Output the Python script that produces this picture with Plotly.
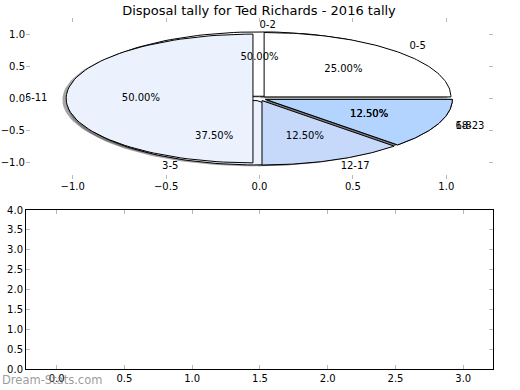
import numpy as np
import plotly.graph_objects as go

title = "Disposal tally for Ted Richards - 2016 tally"
# pie drawn last (on top)
labels_a = ["0-5", "6-11", "12-17", "18-23"]
values_a = [2, 4, 1, 1]
# pie drawn first (underneath)
labels_b = ["0-2", "3-5", "6-8"]
values_b = [4, 3, 1]

colors_a = ["#ffffff", "#ebf2fe", "#c6d9fb", "#b3d4ff"]
colors_b = ["#ffffff", "#ebf2fe", "#c6d9fb"]
EXPLODE = 0.035
FONT = "DejaVu Sans"

fig = go.Figure()


def wedges(values):
    tot = float(sum(values))
    out = []
    t = 0.0
    for v in values:
        t1 = t
        t2 = t + 360.0 * v / tot
        mid = np.deg2rad((t1 + t2) / 2)
        cx, cy = EXPLODE * np.cos(mid), EXPLODE * np.sin(mid)
        th = np.deg2rad(np.linspace(t1, t2, 80))
        xs = np.concatenate([[cx], cx + np.cos(th), [cx]])
        ys = np.concatenate([[cy], cy + np.sin(th), [cy]])
        out.append((xs, ys, mid, cx, cy, v / tot))
        t = t2
    return out


wa = wedges(values_a)
wb = wedges(values_b)

# shadows
for w in wb + wa:
    fig.add_trace(go.Scatter(x=w[0] - 0.02, y=w[1] - 0.02, fill="toself", mode="lines",
                             fillcolor="rgba(77,77,77,0.5)", line=dict(width=0),
                             hoverinfo="skip", showlegend=False, xaxis="x", yaxis="y"))
# wedges
for ws, cols in ((wb, colors_b), (wa, colors_a)):
    for w, c in zip(ws, cols):
        fig.add_trace(go.Scatter(x=w[0], y=w[1], fill="toself", mode="lines",
                                 fillcolor=c, line=dict(width=1, color="black"),
                                 hoverinfo="skip", showlegend=False, xaxis="x", yaxis="y"))

# labels and percentages
for ws, labs in ((wb, labels_b), (wa, labels_a)):
    lx, ly, lt, lp = [], [], [], []
    px, py, pt = [], [], []
    for w, lab in zip(ws, labs):
        mid, cx, cy, frac = w[2], w[3], w[4], w[5]
        x = cx + 1.1 * np.cos(mid)
        y = cy + 1.1 * np.sin(mid)
        lx.append(x); ly.append(y); lt.append(lab)
        lp.append("middle right" if np.cos(mid) > 0 else "middle left")
        px.append(cx + 0.6 * np.cos(mid)); py.append(cy + 0.6 * np.sin(mid))
        pt.append(f"{100 * frac:.2f}%")
    fig.add_trace(go.Scatter(x=lx, y=ly, text=lt, mode="text", textposition=lp,
                             textfont=dict(family=FONT, size=10, color="black"),
                             hoverinfo="skip", showlegend=False, xaxis="x", yaxis="y"))
    fig.add_trace(go.Scatter(x=px, y=py, text=pt, mode="text", textposition="middle center",
                             textfont=dict(family=FONT, size=10, color="black"),
                             hoverinfo="skip", showlegend=False, xaxis="x", yaxis="y"))

# empty lower axes
fig.add_trace(go.Scatter(x=[], y=[], mode="markers", showlegend=False, xaxis="x2", yaxis="y2"))

tickfont = dict(family=FONT, size=10, color="black")
common = dict(showgrid=False, zeroline=False, ticks="inside", ticklen=4, tickwidth=1,
              tickcolor="#b8b8b8", tickfont=tickfont, tickformat=".1f", automargin=False)
xd = [26 / 520, 493 / 520]
fig.update_layout(
    width=520, height=390, margin=dict(l=0, r=0, t=0, b=0, autoexpand=False),
    paper_bgcolor="white", plot_bgcolor="white",
    font=dict(family=FONT, size=10, color="black"),
    title=dict(text=title, x=259 / 520, xanchor="center", y=1 - 10 / 390, yanchor="middle",
               font=dict(family=FONT, size=13, color="black"), automargin=False),
    xaxis=dict(domain=xd, range=[-1.25, 1.25], tickvals=[-1, -0.5, 0, 0.5, 1],
               showline=False, mirror="ticks", anchor="y", **common),
    yaxis=dict(domain=[1 - 179 / 390, 1 - 18 / 390], range=[-1.25, 1.25],
               tickvals=[-1, -0.5, 0, 0.5, 1], showline=False, mirror="ticks", anchor="x", **common),
    xaxis2=dict(domain=xd, range=[-0.2265, 3.2195], tickvals=[0, 0.5, 1, 1.5, 2, 2.5, 3],
                showline=True, linecolor="black", linewidth=1, mirror="ticks", anchor="y2", **common),
    yaxis2=dict(domain=[1 - 369 / 390, 1 - 210 / 390], range=[0, 4],
                tickvals=[0, 0.5, 1, 1.5, 2, 2.5, 3, 3.5, 4],
                showline=True, linecolor="black", linewidth=1, mirror="ticks", anchor="x2", **common),
    annotations=[dict(text="Dream-Stats.com", xref="paper", yref="paper", x=0, y=1 - 380 / 390,
                      xanchor="left", yanchor="middle", showarrow=False,
                      font=dict(family=FONT, size=11.5, color="rgba(130,130,130,0.8)"))],
)

fig.write_html("out.html", config={"displayModeBar": False},
               post_script="document.body.style.margin='0px';")
